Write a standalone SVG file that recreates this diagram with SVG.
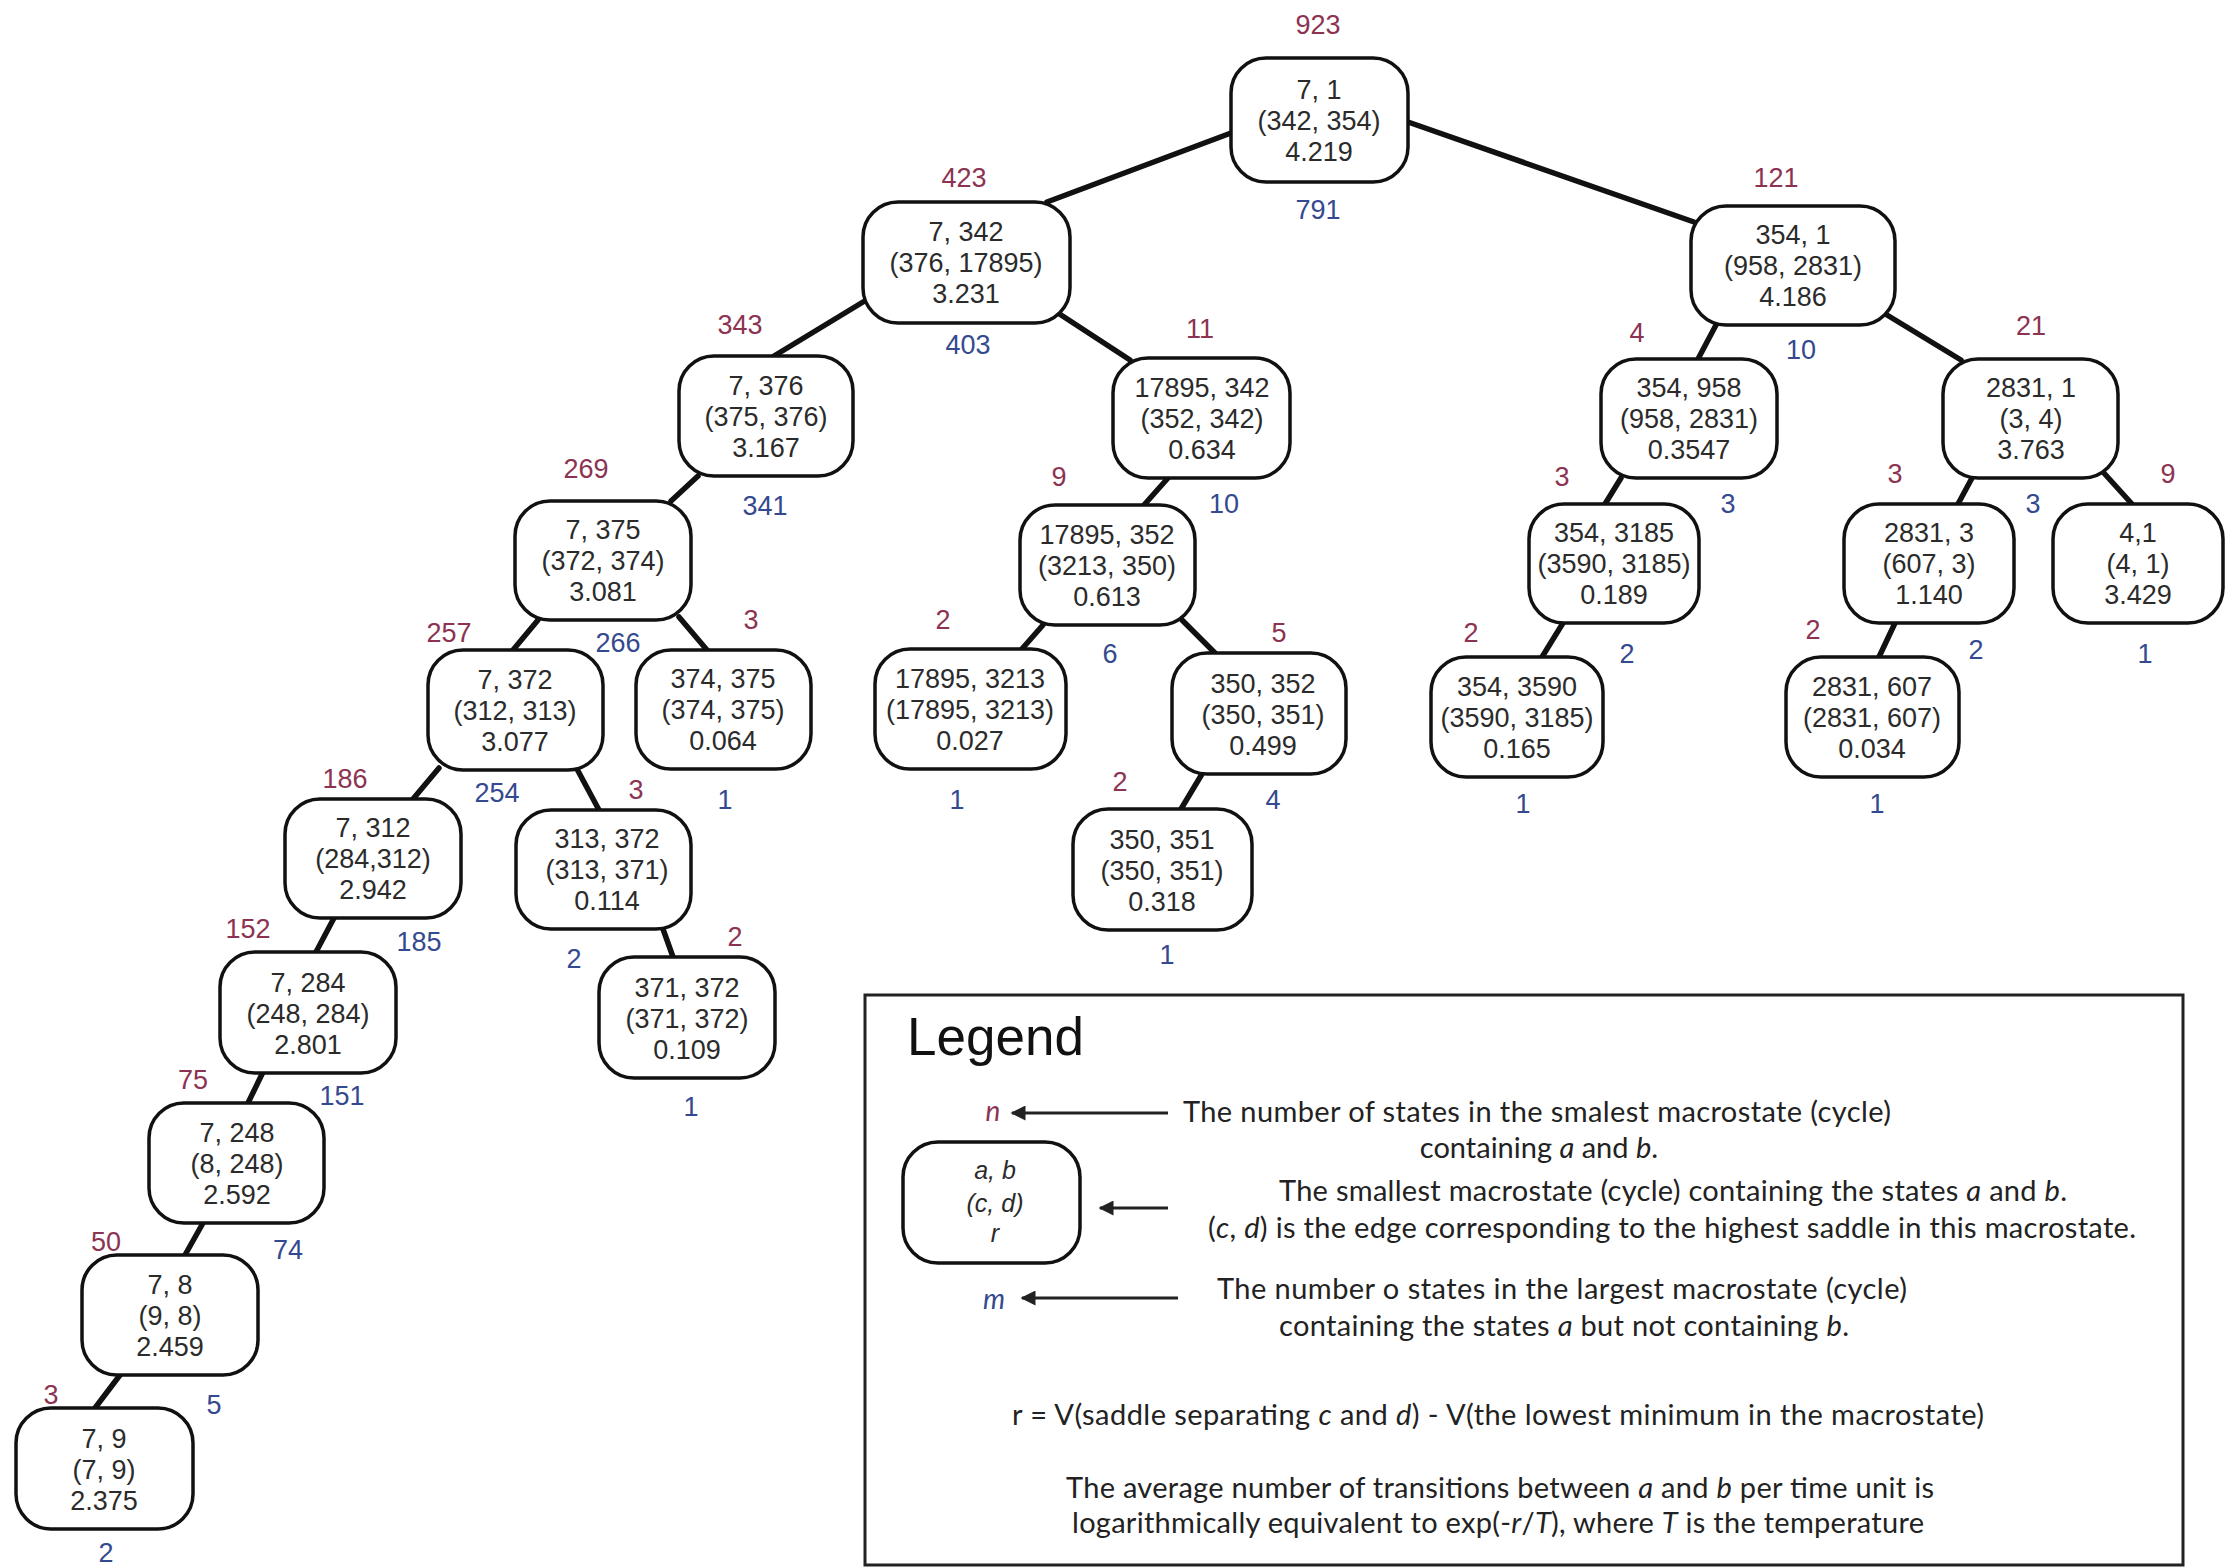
<svg xmlns="http://www.w3.org/2000/svg" width="2226" height="1567" viewBox="0 0 2226 1567">
<style>
.box{fill:#fff;stroke:#111;stroke-width:3.5}
.t{font-family:"Liberation Sans",Arial,sans-serif;font-size:27px;fill:#2b2b2b;text-anchor:middle}
.n{font-family:"Liberation Sans",Arial,sans-serif;font-size:27px;fill:#8c3352;text-anchor:middle}
.m{font-family:"Liberation Sans",Arial,sans-serif;font-size:27px;fill:#34498f;text-anchor:middle}
.e{stroke:#111;stroke-width:5.5;stroke-linecap:round}
.lg{font-family:Lato,"Open Sans",sans-serif;font-size:29px;fill:#222;text-anchor:middle}
.it{font-style:italic}
.ar{stroke:#222;stroke-width:3}
</style>
<defs>
<marker id="ah" viewBox="0 0 10 10" refX="9" refY="5" markerWidth="6" markerHeight="5" orient="auto" markerUnits="strokeWidth">
<path d="M10,5 L0,0 L0,10 Z" fill="#222"/>
</marker>
</defs>
<rect width="2226" height="1567" fill="#fff"/>

<g id="connectors">
<line class="e" x1="1231" y1="133" x2="1047" y2="202"/>
<line class="e" x1="1408" y1="122" x2="1694" y2="222"/>
<line class="e" x1="863" y1="302" x2="774" y2="356"/>
<line class="e" x1="1058" y1="313" x2="1130" y2="360"/>
<line class="e" x1="1716" y1="325" x2="1698" y2="359"/>
<line class="e" x1="1887" y1="315" x2="1961" y2="360"/>
<line class="e" x1="698" y1="476" x2="671" y2="501"/>
<line class="e" x1="1168" y1="478" x2="1144" y2="505"/>
<line class="e" x1="1621" y1="478" x2="1605" y2="504"/>
<line class="e" x1="1972" y1="478" x2="1958" y2="504"/>
<line class="e" x1="2103" y1="472" x2="2132" y2="504"/>
<line class="e" x1="538" y1="620" x2="513" y2="650"/>
<line class="e" x1="679" y1="617" x2="707" y2="650"/>
<line class="e" x1="1043" y1="625" x2="1021" y2="650"/>
<line class="e" x1="1182" y1="620" x2="1215" y2="653"/>
<line class="e" x1="1563" y1="623" x2="1542" y2="657"/>
<line class="e" x1="1895" y1="623" x2="1879" y2="657"/>
<line class="e" x1="439" y1="768" x2="413" y2="799"/>
<line class="e" x1="577" y1="769" x2="599" y2="810"/>
<line class="e" x1="1202" y1="774" x2="1181" y2="809"/>
<line class="e" x1="334" y1="918" x2="316" y2="952"/>
<line class="e" x1="663" y1="929" x2="673" y2="957"/>
<line class="e" x1="263" y1="1072" x2="248" y2="1103"/>
<line class="e" x1="203" y1="1223" x2="185" y2="1255"/>
<line class="e" x1="120" y1="1375" x2="95" y2="1408"/>
</g>

<g id="N1"><rect class="box" x="1231" y="58" width="177" height="124" rx="35"/><text class="t" x="1319" y="99">7, 1</text><text class="t" x="1319" y="130">(342, 354)</text><text class="t" x="1319" y="161">4.219</text></g>
<g id="N2"><rect class="box" x="863" y="202" width="207" height="121" rx="35"/><text class="t" x="966" y="241">7, 342</text><text class="t" x="966" y="272">(376, 17895)</text><text class="t" x="966" y="303">3.231</text></g>
<g id="N3"><rect class="box" x="1691" y="206" width="204" height="119" rx="35"/><text class="t" x="1793" y="244">354, 1</text><text class="t" x="1793" y="275">(958, 2831)</text><text class="t" x="1793" y="306">4.186</text></g>
<g id="N4"><rect class="box" x="679" y="356" width="174" height="120" rx="35"/><text class="t" x="766" y="395">7, 376</text><text class="t" x="766" y="426">(375, 376)</text><text class="t" x="766" y="457">3.167</text></g>
<g id="N5"><rect class="box" x="1113" y="358" width="177" height="120" rx="35"/><text class="t" x="1202" y="397">17895, 342</text><text class="t" x="1202" y="428">(352, 342)</text><text class="t" x="1202" y="459">0.634</text></g>
<g id="N6"><rect class="box" x="1601" y="359" width="176" height="119" rx="35"/><text class="t" x="1689" y="397">354, 958</text><text class="t" x="1689" y="428">(958, 2831)</text><text class="t" x="1689" y="459">0.3547</text></g>
<g id="N7"><rect class="box" x="1943" y="359" width="175" height="119" rx="35"/><text class="t" x="2031" y="397">2831, 1</text><text class="t" x="2031" y="428">(3, 4)</text><text class="t" x="2031" y="459">3.763</text></g>
<g id="N8"><rect class="box" x="515" y="501" width="176" height="119" rx="35"/><text class="t" x="603" y="539">7, 375</text><text class="t" x="603" y="570">(372, 374)</text><text class="t" x="603" y="601">3.081</text></g>
<g id="N9"><rect class="box" x="1020" y="505" width="175" height="120" rx="35"/><text class="t" x="1107" y="544">17895, 352</text><text class="t" x="1107" y="575">(3213, 350)</text><text class="t" x="1107" y="606">0.613</text></g>
<g id="N10"><rect class="box" x="1529" y="504" width="170" height="119" rx="35"/><text class="t" x="1614" y="542">354, 3185</text><text class="t" x="1614" y="573">(3590, 3185)</text><text class="t" x="1614" y="604">0.189</text></g>
<g id="N11"><rect class="box" x="1844" y="504" width="170" height="119" rx="35"/><text class="t" x="1929" y="542">2831, 3</text><text class="t" x="1929" y="573">(607, 3)</text><text class="t" x="1929" y="604">1.140</text></g>
<g id="N12"><rect class="box" x="2053" y="504" width="170" height="119" rx="35"/><text class="t" x="2138" y="542">4,1</text><text class="t" x="2138" y="573">(4, 1)</text><text class="t" x="2138" y="604">3.429</text></g>
<g id="N13"><rect class="box" x="428" y="650" width="175" height="120" rx="35"/><text class="t" x="515" y="689">7, 372</text><text class="t" x="515" y="720">(312, 313)</text><text class="t" x="515" y="751">3.077</text></g>
<g id="N14"><rect class="box" x="636" y="650" width="175" height="119" rx="35"/><text class="t" x="723" y="688">374, 375</text><text class="t" x="723" y="719">(374, 375)</text><text class="t" x="723" y="750">0.064</text></g>
<g id="N15"><rect class="box" x="875" y="649" width="191" height="120" rx="35"/><text class="t" x="970" y="688">17895, 3213</text><text class="t" x="970" y="719">(17895, 3213)</text><text class="t" x="970" y="750">0.027</text></g>
<g id="N16"><rect class="box" x="1172" y="653" width="174" height="121" rx="35"/><text class="t" x="1263" y="693">350, 352</text><text class="t" x="1263" y="724">(350, 351)</text><text class="t" x="1263" y="755">0.499</text></g>
<g id="N17"><rect class="box" x="1431" y="657" width="172" height="120" rx="35"/><text class="t" x="1517" y="696">354, 3590</text><text class="t" x="1517" y="727">(3590, 3185)</text><text class="t" x="1517" y="758">0.165</text></g>
<g id="N18"><rect class="box" x="1786" y="657" width="173" height="120" rx="35"/><text class="t" x="1872" y="696">2831, 607</text><text class="t" x="1872" y="727">(2831, 607)</text><text class="t" x="1872" y="758">0.034</text></g>
<g id="N19"><rect class="box" x="285" y="799" width="176" height="119" rx="35"/><text class="t" x="373" y="837">7, 312</text><text class="t" x="373" y="868">(284,312)</text><text class="t" x="373" y="899">2.942</text></g>
<g id="N20"><rect class="box" x="516" y="810" width="175" height="119" rx="35"/><text class="t" x="607" y="848">313, 372</text><text class="t" x="607" y="879">(313, 371)</text><text class="t" x="607" y="910">0.114</text></g>
<g id="N21"><rect class="box" x="1073" y="809" width="179" height="121" rx="35"/><text class="t" x="1162" y="849">350, 351</text><text class="t" x="1162" y="880">(350, 351)</text><text class="t" x="1162" y="911">0.318</text></g>
<g id="N22"><rect class="box" x="220" y="952" width="176" height="121" rx="35"/><text class="t" x="308" y="992">7, 284</text><text class="t" x="308" y="1023">(248, 284)</text><text class="t" x="308" y="1054">2.801</text></g>
<g id="N23"><rect class="box" x="599" y="957" width="176" height="121" rx="35"/><text class="t" x="687" y="997">371, 372</text><text class="t" x="687" y="1028">(371, 372)</text><text class="t" x="687" y="1059">0.109</text></g>
<g id="N24"><rect class="box" x="149" y="1103" width="175" height="120" rx="35"/><text class="t" x="237" y="1142">7, 248</text><text class="t" x="237" y="1173">(8, 248)</text><text class="t" x="237" y="1204">2.592</text></g>
<g id="N25"><rect class="box" x="82" y="1255" width="176" height="120" rx="35"/><text class="t" x="170" y="1294">7, 8</text><text class="t" x="170" y="1325">(9, 8)</text><text class="t" x="170" y="1356">2.459</text></g>
<g id="N26"><rect class="box" x="16" y="1408" width="177" height="121" rx="35"/><text class="t" x="104" y="1448">7, 9</text><text class="t" x="104" y="1479">(7, 9)</text><text class="t" x="104" y="1510">2.375</text></g>

<g id="n-labels">
<text class="n" x="1318" y="34">923</text>
<text class="n" x="964" y="187">423</text>
<text class="n" x="1776" y="187">121</text>
<text class="n" x="740" y="334">343</text>
<text class="n" x="1200" y="338">11</text>
<text class="n" x="1637" y="342">4</text>
<text class="n" x="2031" y="335">21</text>
<text class="n" x="586" y="478">269</text>
<text class="n" x="1059" y="486">9</text>
<text class="n" x="1562" y="486">3</text>
<text class="n" x="1895" y="483">3</text>
<text class="n" x="2168" y="483">9</text>
<text class="n" x="449" y="642">257</text>
<text class="n" x="751" y="629">3</text>
<text class="n" x="943" y="629">2</text>
<text class="n" x="1279" y="642">5</text>
<text class="n" x="1471" y="642">2</text>
<text class="n" x="1813" y="639">2</text>
<text class="n" x="345" y="788">186</text>
<text class="n" x="636" y="799">3</text>
<text class="n" x="1120" y="791">2</text>
<text class="n" x="248" y="938">152</text>
<text class="n" x="735" y="946">2</text>
<text class="n" x="193" y="1089">75</text>
<text class="n" x="106" y="1251">50</text>
<text class="n" x="51" y="1404">3</text>
</g>
<g id="m-labels">
<text class="m" x="1318" y="219">791</text>
<text class="m" x="968" y="354">403</text>
<text class="m" x="1801" y="359">10</text>
<text class="m" x="765" y="515">341</text>
<text class="m" x="1224" y="513">10</text>
<text class="m" x="1728" y="513">3</text>
<text class="m" x="2033" y="513">3</text>
<text class="m" x="618" y="652">266</text>
<text class="m" x="1110" y="663">6</text>
<text class="m" x="1627" y="663">2</text>
<text class="m" x="1976" y="659">2</text>
<text class="m" x="2145" y="663">1</text>
<text class="m" x="497" y="802">254</text>
<text class="m" x="725" y="809">1</text>
<text class="m" x="957" y="809">1</text>
<text class="m" x="1273" y="809">4</text>
<text class="m" x="1523" y="813">1</text>
<text class="m" x="1877" y="813">1</text>
<text class="m" x="419" y="951">185</text>
<text class="m" x="574" y="968">2</text>
<text class="m" x="1167" y="964">1</text>
<text class="m" x="342" y="1105">151</text>
<text class="m" x="691" y="1116">1</text>
<text class="m" x="288" y="1259">74</text>
<text class="m" x="214" y="1414">5</text>
<text class="m" x="106" y="1562">2</text>
</g>

<g id="legend">
<rect x="865" y="995" width="1318" height="570" fill="none" stroke="#222" stroke-width="3"/>
<text x="907" y="1055" style="font-family:'Liberation Sans',Arial,sans-serif;font-size:53px;fill:#111">Legend</text>
<text x="993" y="1121" class="it" style="font-family:Lato,sans-serif;font-size:28px;fill:#8c3352;text-anchor:middle">n</text>
<line class="ar" x1="1168" y1="1113" x2="1012" y2="1113" marker-end="url(#ah)"/>
<rect class="box" x="903" y="1142" width="177" height="121" rx="35"/>
<text class="t it" x="995" y="1179" style="font-size:25px">a, b</text>
<text class="t it" x="995" y="1212" style="font-size:25px">(c, d)</text>
<text class="t it" x="995" y="1242" style="font-size:25px">r</text>
<line class="ar" x1="1168" y1="1208" x2="1100" y2="1208" marker-end="url(#ah)"/>
<text x="994" y="1309" class="it" style="font-family:Lato,sans-serif;font-size:28px;fill:#34498f;text-anchor:middle">m</text>
<line class="ar" x1="1178" y1="1298" x2="1022" y2="1298" marker-end="url(#ah)"/>
<text class="lg" x="1537" y="1122" textLength="708" lengthAdjust="spacing">The number of states in the smalest macrostate (cycle)</text>
<text class="lg" x="1539" y="1158">containing <tspan class="it">a</tspan> and <tspan class="it">b</tspan>.</text>
<text class="lg" x="1673" y="1201" textLength="788" lengthAdjust="spacing">The smallest macrostate (cycle) containing the states <tspan class="it">a</tspan> and <tspan class="it">b</tspan>.</text>
<text class="lg" x="1672" y="1238" textLength="928" lengthAdjust="spacing">(<tspan class="it">c</tspan>, <tspan class="it">d</tspan>) is the edge corresponding to the highest saddle in this macrostate.</text>
<text class="lg" x="1562" y="1299" textLength="690" lengthAdjust="spacing">The number o states in the largest macrostate (cycle)</text>
<text class="lg" x="1564" y="1336" textLength="570" lengthAdjust="spacing">containing the states <tspan class="it">a</tspan> but not containing  <tspan class="it">b</tspan>.</text>
<text class="lg" x="1498" y="1425" textLength="972" lengthAdjust="spacing">r = V(saddle separating <tspan class="it">c</tspan> and <tspan class="it">d</tspan>) - V(the lowest minimum in the  macrostate)</text>
<text class="lg" x="1500" y="1498" textLength="868" lengthAdjust="spacing">The average number of transitions between <tspan class="it">a</tspan> and <tspan class="it">b</tspan> per time unit is</text>
<text class="lg" x="1498" y="1533" textLength="852" lengthAdjust="spacing">logarithmically equivalent to exp(-<tspan class="it">r</tspan>/<tspan class="it">T</tspan>), where <tspan class="it">T</tspan> is the temperature</text>
</g>
</svg>
